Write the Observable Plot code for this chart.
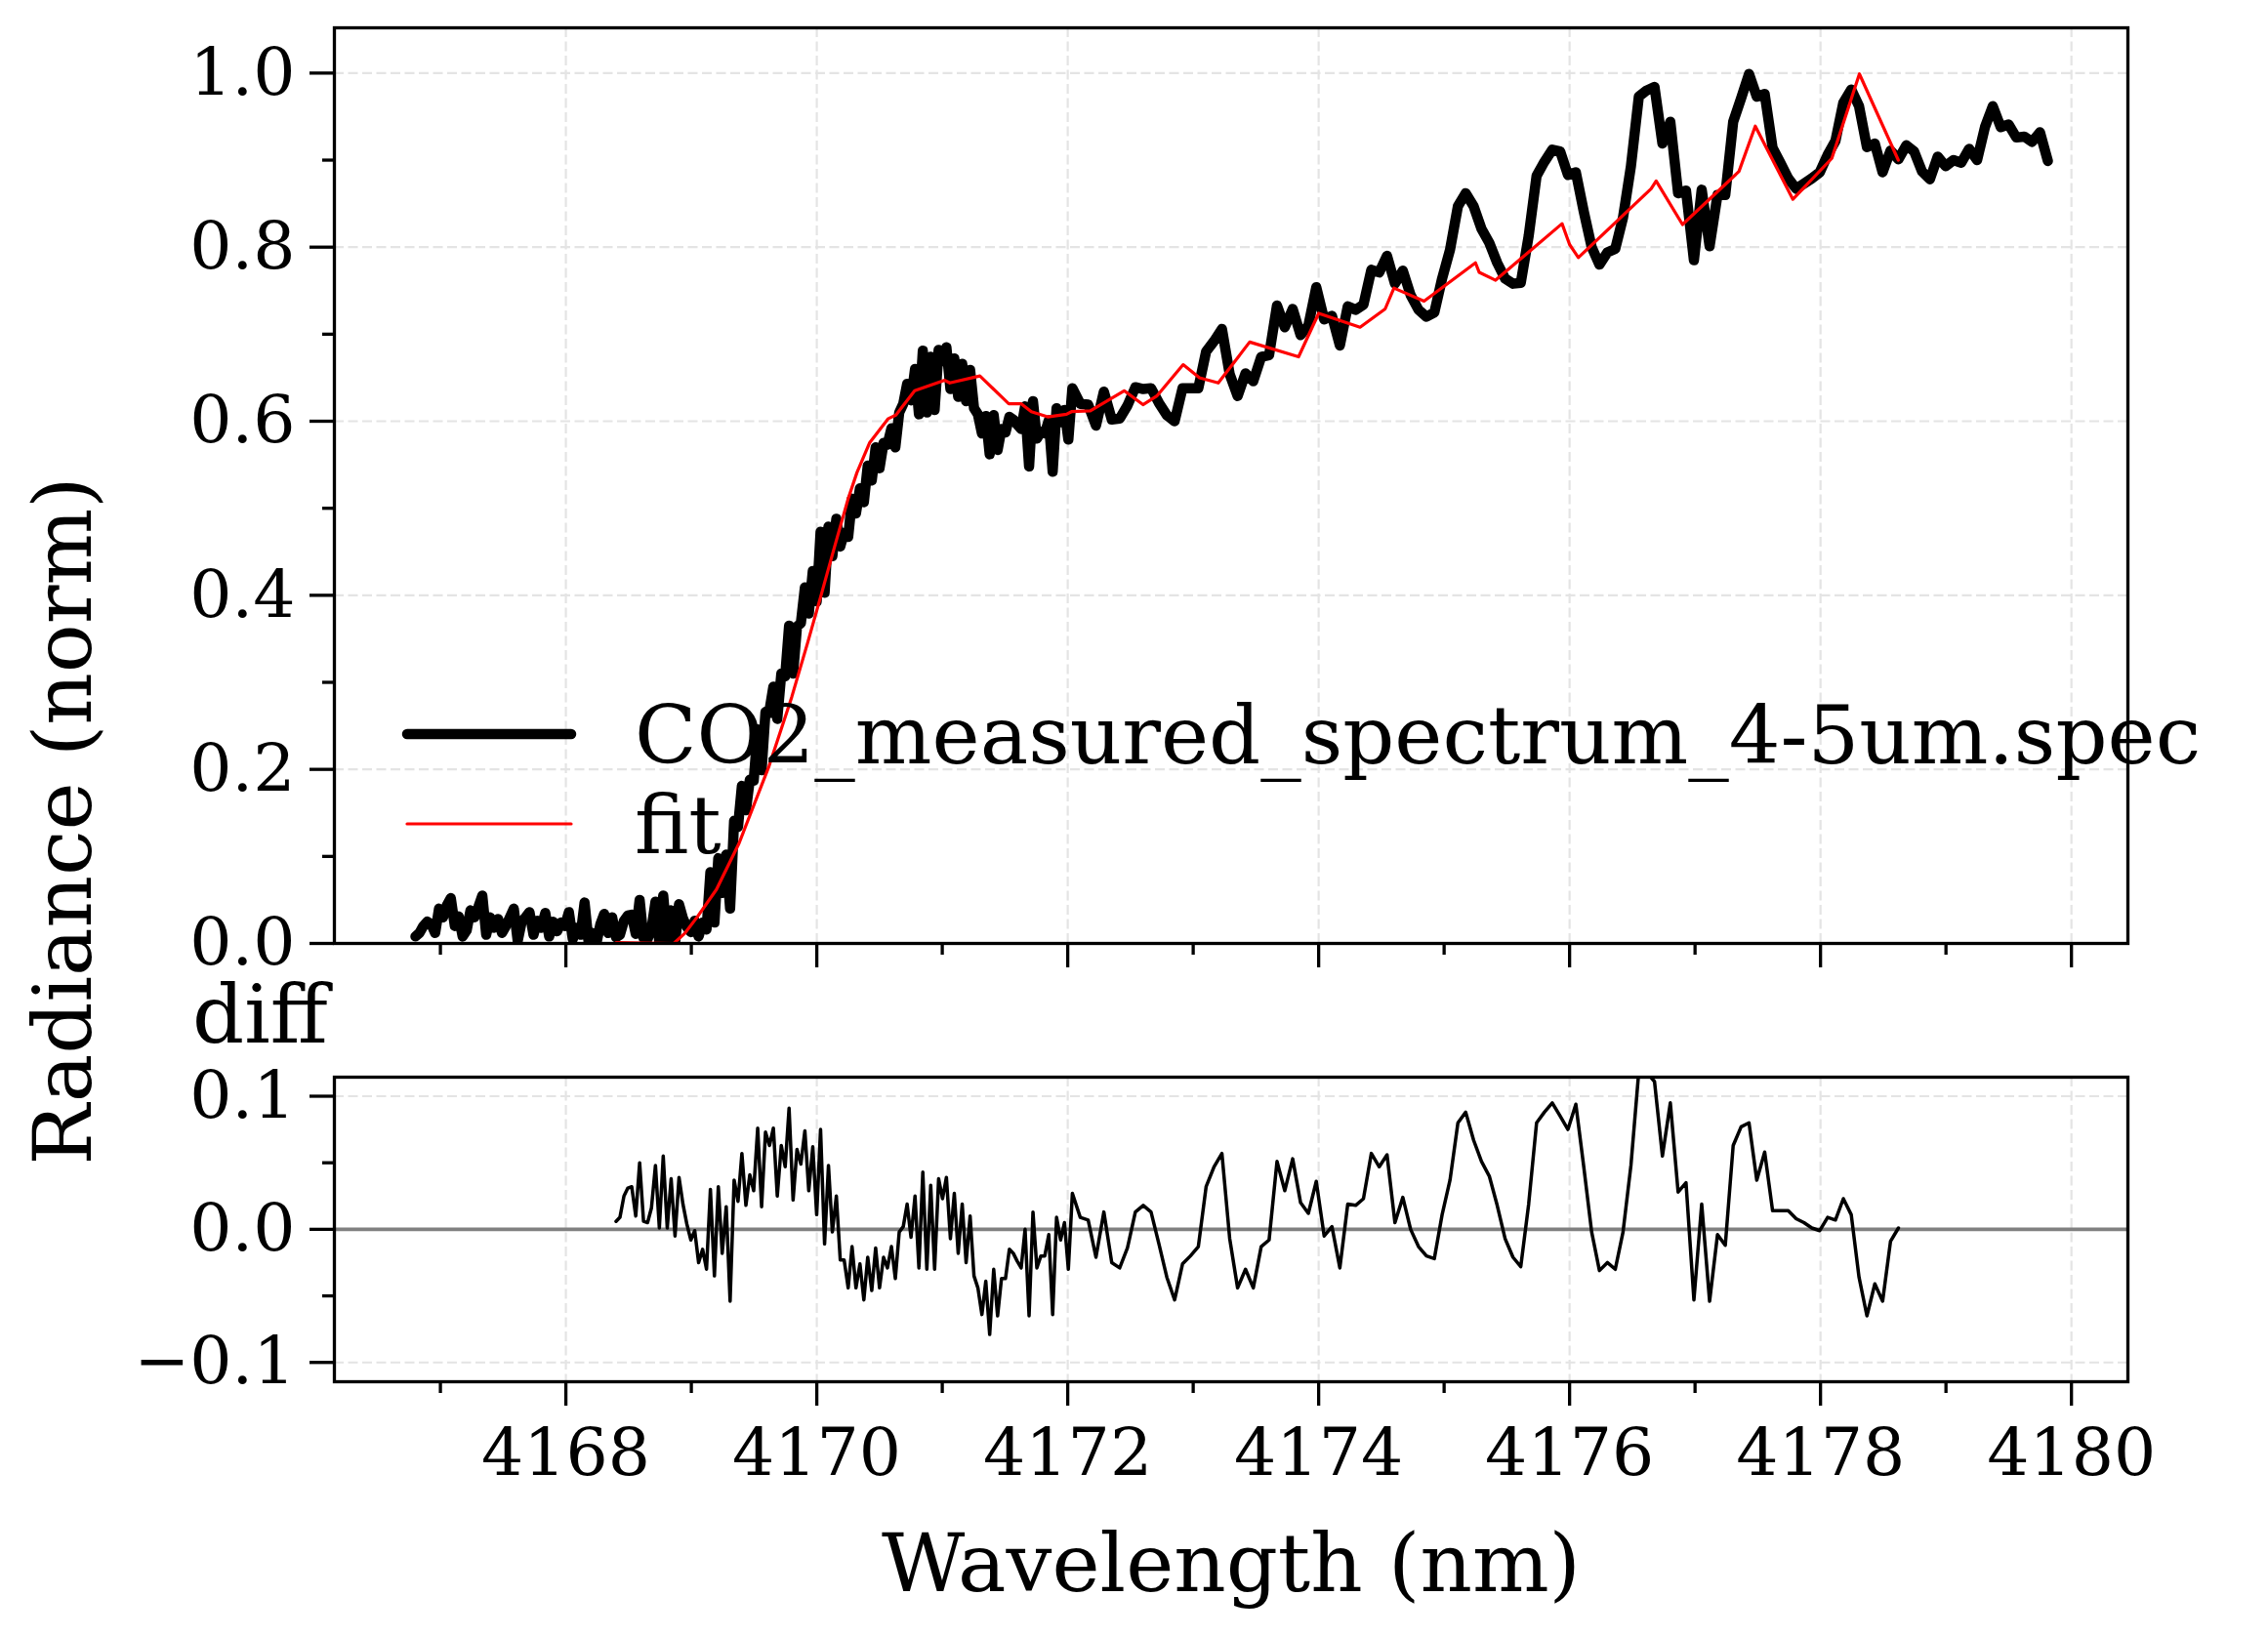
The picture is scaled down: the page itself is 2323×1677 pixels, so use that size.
<!DOCTYPE html>
<html>
<head>
<meta charset="utf-8">
<script src="https://cdn.jsdelivr.net/npm/d3@7"></script>
<script src="https://cdn.jsdelivr.net/npm/@observablehq/plot@0.6"></script>
<style>
  html, body { margin: 0; padding: 0; background: #fff; }
  #fig { position: relative; width: 2323px; height: 1677px; background: #fff; overflow: hidden; }
  #fig svg { position: absolute; left: 0; }
</style>
</head>
<body>
<div id="fig"></div>
<script>
// Measured CO2 spectrum (nm, normalised radiance)
const wavelengthNm = [
  4166.801, 4166.833, 4166.864, 4166.895, 4166.927, 4166.958, 4166.989, 4167.021, 4167.052, 4167.083,
  4167.115, 4167.146, 4167.177, 4167.209, 4167.240, 4167.271, 4167.303, 4167.334, 4167.365, 4167.397,
  4167.428, 4167.460, 4167.491, 4167.522, 4167.554, 4167.585, 4167.616, 4167.648, 4167.679, 4167.710,
  4167.742, 4167.773, 4167.804, 4167.836, 4167.867, 4167.898, 4167.930, 4167.961, 4167.992, 4168.024,
  4168.055, 4168.087, 4168.118, 4168.149, 4168.181, 4168.212, 4168.243, 4168.275, 4168.306, 4168.337,
  4168.369,
  4168.400, 4168.431, 4168.463, 4168.494, 4168.525, 4168.557, 4168.588, 4168.619, 4168.651, 4168.682,
  4168.714, 4168.745, 4168.776, 4168.808, 4168.839, 4168.870, 4168.902, 4168.933, 4168.964, 4168.996,
  4169.027, 4169.058, 4169.090, 4169.121, 4169.152, 4169.184, 4169.215, 4169.246, 4169.278, 4169.309,
  4169.341, 4169.372, 4169.403, 4169.435, 4169.466, 4169.497, 4169.529, 4169.560, 4169.591, 4169.623,
  4169.654, 4169.685, 4169.717, 4169.748, 4169.779, 4169.811, 4169.842, 4169.873, 4169.905, 4169.936,
  4169.968, 4169.999, 4170.030, 4170.062, 4170.093, 4170.124, 4170.156, 4170.187, 4170.218, 4170.250,
  4170.281, 4170.312, 4170.344, 4170.375, 4170.406, 4170.438, 4170.469, 4170.500, 4170.532, 4170.563,
  4170.595, 4170.626, 4170.657, 4170.689, 4170.720, 4170.751, 4170.783, 4170.814, 4170.845, 4170.877,
  4170.908, 4170.939, 4170.971, 4171.002, 4171.033, 4171.065, 4171.096, 4171.127, 4171.159, 4171.190,
  4171.222, 4171.253, 4171.284, 4171.316, 4171.347, 4171.378, 4171.410, 4171.441, 4171.472, 4171.504,
  4171.535, 4171.566, 4171.598, 4171.629, 4171.660, 4171.692, 4171.723, 4171.754, 4171.786, 4171.817,
  4171.849, 4171.880, 4171.911, 4171.943, 4171.974, 4172.005, 4172.037,
  4172.100, 4172.163, 4172.225, 4172.288, 4172.351, 4172.414, 4172.476, 4172.539, 4172.602, 4172.664,
  4172.727, 4172.790, 4172.852, 4172.915, 4172.978, 4173.041, 4173.103, 4173.166, 4173.229, 4173.291,
  4173.354, 4173.417, 4173.479, 4173.542, 4173.605, 4173.668, 4173.730, 4173.793, 4173.856, 4173.918,
  4173.981, 4174.044, 4174.106, 4174.169, 4174.232, 4174.295, 4174.357, 4174.420, 4174.483, 4174.545,
  4174.608, 4174.671, 4174.733, 4174.796, 4174.859, 4174.922, 4174.984, 4175.047, 4175.110, 4175.172,
  4175.235, 4175.298, 4175.360, 4175.423, 4175.486, 4175.549, 4175.611, 4175.674, 4175.737, 4175.799,
  4175.862, 4175.925, 4175.987, 4176.050, 4176.113, 4176.176, 4176.238, 4176.301, 4176.364, 4176.426,
  4176.489, 4176.552, 4176.614, 4176.677, 4176.740, 4176.803, 4176.865, 4176.928, 4176.991, 4177.053,
  4177.116, 4177.179, 4177.241, 4177.304, 4177.367, 4177.430, 4177.492, 4177.555, 4177.618, 4177.680,
  4177.743, 4177.806, 4177.868, 4177.931, 4177.994, 4178.057, 4178.119, 4178.182, 4178.245, 4178.307,
  4178.370, 4178.433, 4178.495, 4178.558, 4178.621,
  4178.684, 4178.746, 4178.809, 4178.872, 4178.934, 4178.997, 4179.060, 4179.122, 4179.185, 4179.248,
  4179.311, 4179.373, 4179.436, 4179.499, 4179.561, 4179.624, 4179.687, 4179.749, 4179.812
];

const radianceNorm = [
  0.008, 0.012, 0.020, 0.025, 0.022, 0.012, 0.040, 0.030, 0.044, 0.052,
  0.020, 0.031, 0.008, 0.015, 0.038, 0.030, 0.042, 0.055, 0.010, 0.030,
  0.018, 0.028, 0.012, 0.020, 0.030, 0.040, 0.003, 0.025, 0.030, 0.036,
  0.010, 0.026, 0.018, 0.035, 0.008, 0.025, 0.014, 0.024, 0.020, 0.036,
  0.005, 0.018, 0.010, 0.047, 0.002, 0.012, 0.000, 0.022, 0.034, 0.012,
  0.030,
  0.007, 0.010, 0.026, 0.032, 0.033, 0.011, 0.050, 0.006, 0.005, 0.016,
  0.048, 0.001, 0.055, 0.001, 0.038, 0.000, 0.045, 0.029, 0.019, 0.013,
  0.026, 0.008, 0.024, 0.016, 0.082, 0.024, 0.098, 0.058, 0.102, 0.040,
  0.141, 0.134, 0.181, 0.153, 0.188, 0.187, 0.246, 0.199, 0.266, 0.268,
  0.295, 0.258, 0.310, 0.307, 0.365, 0.310, 0.364, 0.368, 0.409, 0.379,
  0.428, 0.393, 0.473, 0.403, 0.479, 0.445, 0.488, 0.456, 0.472, 0.467,
  0.511, 0.494, 0.523, 0.507, 0.549, 0.532, 0.570, 0.546, 0.575, 0.573,
  0.592, 0.570, 0.610, 0.620, 0.643, 0.624, 0.660, 0.608, 0.681, 0.610,
  0.674, 0.613, 0.682, 0.669, 0.685, 0.637, 0.672, 0.628, 0.666, 0.623,
  0.659, 0.615, 0.608, 0.586, 0.606, 0.562, 0.607, 0.567, 0.591, 0.587,
  0.605, 0.602, 0.596, 0.591, 0.617, 0.548, 0.623, 0.580, 0.588, 0.586,
  0.601, 0.542, 0.615, 0.599, 0.613, 0.579, 0.638,
  0.620, 0.619, 0.595, 0.634, 0.602, 0.603, 0.618, 0.639, 0.637, 0.638,
  0.621, 0.607, 0.600, 0.638, 0.638, 0.638, 0.680, 0.692, 0.706, 0.654,
  0.629, 0.655, 0.646, 0.674, 0.676, 0.733, 0.708, 0.729, 0.699, 0.710,
  0.754, 0.717, 0.721, 0.687, 0.732, 0.728, 0.734, 0.774, 0.771, 0.790,
  0.758, 0.773, 0.745, 0.728, 0.720, 0.725, 0.764, 0.797, 0.847, 0.862,
  0.847, 0.821, 0.805, 0.782, 0.764, 0.758, 0.759, 0.813, 0.882, 0.898,
  0.912, 0.910, 0.883, 0.886, 0.841, 0.800, 0.780, 0.794, 0.798, 0.834,
  0.893, 0.973, 0.980, 0.984, 0.919, 0.944, 0.862, 0.865, 0.785, 0.866,
  0.801, 0.860, 0.860, 0.944, 0.971, 0.999, 0.973, 0.976, 0.914, 0.897,
  0.879, 0.867, 0.873, 0.879, 0.886, 0.906, 0.922, 0.966, 0.981, 0.962,
  0.915, 0.919, 0.886, 0.911, 0.901,
  0.917, 0.910, 0.887, 0.878, 0.904, 0.893, 0.900, 0.897, 0.913, 0.900,
  0.938, 0.962, 0.938, 0.941, 0.926, 0.927, 0.921, 0.932, 0.899
];

// Fitted model, vertex by vertex
const fitWavelengthNm = [
  4168.400, 4168.860, 4168.950, 4169.050, 4169.200, 4169.380, 4169.620, 4169.800, 4169.930, 4170.040,
  4170.140, 4170.250, 4170.320, 4170.420, 4170.570, 4170.630, 4170.780, 4171.020, 4171.060, 4171.300,
  4171.530, 4171.630, 4171.710, 4171.840, 4171.990, 4172.030, 4172.180, 4172.450, 4172.600, 4172.710,
  4172.920, 4173.050, 4173.200, 4173.450, 4173.840, 4174.000, 4174.330, 4174.530, 4174.600, 4174.840,
  4175.250, 4175.280, 4175.410, 4175.940, 4176.000, 4176.070, 4176.650, 4176.690, 4176.900, 4177.350,
  4177.480, 4177.780, 4178.090, 4178.310, 4178.620
];
const fitRadianceNorm = [
  0.001, 0.000, 0.012, 0.031, 0.062, 0.115, 0.204, 0.283, 0.347, 0.403,
  0.455, 0.511, 0.541, 0.575, 0.603, 0.607, 0.635, 0.647, 0.644, 0.652,
  0.620, 0.620, 0.611, 0.605, 0.608, 0.611, 0.612, 0.635, 0.619, 0.629,
  0.665, 0.650, 0.644, 0.691, 0.674, 0.724, 0.708, 0.729, 0.753, 0.738,
  0.782, 0.771, 0.762, 0.827, 0.803, 0.788, 0.867, 0.876, 0.826, 0.887,
  0.939, 0.855, 0.902, 0.999, 0.900
];

// Residual (measured - fit), sampled on wavelengthNm from index residualStart on
const residualStart = 51;
const residual = [
  0.006, 0.009, 0.025, 0.031, 0.032, 0.010, 0.050, 0.006, 0.005, 0.016,
  0.048, 0.001, 0.055, 0.001, 0.038, -0.005, 0.039, 0.019, 0.004, -0.008,
  -0.001, -0.025, -0.015, -0.030, 0.030, -0.035, 0.032, -0.018, 0.017, -0.054,
  0.037, 0.021, 0.057, 0.018, 0.041, 0.029, 0.076, 0.017, 0.073, 0.063,
  0.076, 0.025, 0.063, 0.047, 0.091, 0.022, 0.060, 0.049, 0.074, 0.029,
  0.062, 0.011, 0.075, -0.011, 0.048, -0.002, 0.025, -0.023, -0.023, -0.044,
  -0.013, -0.044, -0.026, -0.053, -0.021, -0.046, -0.014, -0.044, -0.021, -0.029,
  -0.013, -0.037, -0.002, 0.002, 0.019, -0.006, 0.025, -0.029, 0.043, -0.030,
  0.033, -0.030, 0.038, 0.023, 0.039, -0.007, 0.027, -0.018, 0.019, -0.025,
  0.010, -0.035, -0.044, -0.064, -0.039, -0.079, -0.030, -0.065, -0.037, -0.037,
  -0.015, -0.018, -0.024, -0.029, 0.000, -0.065, 0.013, -0.029, -0.020, -0.020,
  -0.004, -0.064, 0.009, -0.008, 0.005, -0.030, 0.027,
  0.009, 0.007, -0.021, 0.013, -0.025, -0.029, -0.014, 0.013, 0.018, 0.013,
  -0.011, -0.036, -0.053, -0.026, -0.020, -0.013, 0.032, 0.047, 0.057, -0.007,
  -0.044, -0.030, -0.044, -0.013, -0.008, 0.051, 0.029, 0.053, 0.020, 0.012,
  0.036, -0.005, 0.002, -0.029, 0.019, 0.018, 0.023, 0.057, 0.047, 0.056,
  0.005, 0.024, 0.000, -0.013, -0.020, -0.022, 0.011, 0.037, 0.080, 0.088,
  0.067, 0.051, 0.040, 0.018, -0.007, -0.021, -0.028, 0.019, 0.080, 0.088,
  0.095, 0.085, 0.075, 0.094, 0.047, -0.002, -0.031, -0.025, -0.030, -0.002,
  0.048, 0.119, 0.118, 0.111, 0.055, 0.095, 0.028, 0.035, -0.053, 0.019,
  -0.054, -0.004, -0.012, 0.063, 0.077, 0.080, 0.037, 0.058, 0.014, 0.014,
  0.014, 0.008, 0.005, 0.001, -0.001, 0.009, 0.007, 0.023, 0.011, -0.036,
  -0.065, -0.041, -0.054, -0.009, 0.001
];

// Tick positions and labels
const xMajorTicks = [4168, 4170, 4172, 4174, 4176, 4178, 4180];
const xMinorTicks = [4167, 4169, 4171, 4173, 4175, 4177, 4179];
const radianceTicks = [0, 0.2, 0.4, 0.6, 0.8, 1.0];
const radianceMinorTicks = [0.1, 0.3, 0.5, 0.7, 0.9];
const diffTicks = [-0.1, 0, 0.1];
const diffMinorTicks = [-0.05, 0.05];

const seriesLabels = ["CO2_measured_spectrum_4-5um.spec", "fit"];
const yLabel = "Radiance (norm)";
const xLabel = "Wavelength (nm)";
const diffTitle = "diff";

// ---- build tables ----
const measured = wavelengthNm.map((w, i) => ({w, r: radianceNorm[i]}));
const fit = fitWavelengthNm.map((w, i) => ({w, r: fitRadianceNorm[i]}));
const resid = residual.map((d, i) => ({w: wavelengthNm[residualStart + i], d}));

// ---- layout ----
const W = 2323;
const FONT = '"DejaVu Serif", "Liberation Serif", serif';
const TICK_FS = 68;
const LABEL_FS = 83;
const LW_AXIS = 3.3;
const GRID = {stroke: "#e4e4e4", strokeOpacity: 1, strokeWidth: 2.2, strokeDasharray: "10,4.5"};
const xDomain = [4166.155, 4180.45];
const frameLeft = 342, frameRight = 2179;
const fmt1 = d => (d < 0 ? "\u2212" : "") + Math.abs(d).toFixed(1);
const blank = () => "";

const common = {
  width: W,
  marginLeft: frameLeft,
  marginRight: W - frameRight,
  style: {fontFamily: FONT, fontSize: TICK_FS + "px", background: "transparent", color: "black", overflow: "visible"}
};

// Upper panel: spectrum and fit
const topH = 1000;
const topPlot = Plot.plot({
  ...common,
  height: topH,
  marginTop: 28,
  marginBottom: topH - 966,
  x: {domain: xDomain, label: null},
  y: {domain: [0, 1.052], label: null},
  marks: [
    Plot.gridX(xMajorTicks, GRID),
    Plot.gridY(radianceTicks, GRID),
    Plot.line(measured, {x: "w", y: "r", stroke: "black", strokeWidth: 10.5,
      strokeLinejoin: "round", strokeLinecap: "round", clip: true}),
    Plot.line(fit, {x: "w", y: "r", stroke: "#ff0000", strokeWidth: 3.2,
      strokeLinejoin: "round", clip: true}),
    Plot.axisY(radianceTicks, {anchor: "left", tickSize: 25, tickPadding: 15, strokeWidth: LW_AXIS,
      tickFormat: fmt1, fontSize: TICK_FS, label: null}),
    Plot.axisY(radianceMinorTicks, {anchor: "left", tickSize: 12, strokeWidth: LW_AXIS,
      tickFormat: blank, label: null}),
    Plot.axisX(xMajorTicks, {anchor: "bottom", tickSize: 25, strokeWidth: LW_AXIS,
      tickFormat: blank, label: null}),
    Plot.axisX(xMinorTicks, {anchor: "bottom", tickSize: 12, strokeWidth: LW_AXIS,
      tickFormat: blank, label: null}),
    Plot.frame({stroke: "black", strokeWidth: LW_AXIS})
  ]
});

// Lower panel: residuals
const botTop = 1000;
const botH = 1677 - botTop;
const bottomPlot = Plot.plot({
  ...common,
  height: botH,
  marginTop: 1103 - botTop,
  marginBottom: botH - (1415 - botTop),
  x: {domain: xDomain, label: null},
  y: {domain: [-0.1145, 0.1143], label: null},
  marks: [
    Plot.gridX(xMajorTicks, GRID),
    Plot.gridY([-0.1, 0.1], GRID),
    Plot.ruleY([0], {stroke: "#808080", strokeWidth: 3.6}),
    Plot.line(resid, {x: "w", y: "d", stroke: "black", strokeWidth: 3.5,
      strokeLinejoin: "round", clip: true}),
    Plot.axisY(diffTicks, {anchor: "left", tickSize: 25, tickPadding: 15, strokeWidth: LW_AXIS,
      tickFormat: fmt1, fontSize: TICK_FS, label: null}),
    Plot.axisY(diffMinorTicks, {anchor: "left", tickSize: 12, strokeWidth: LW_AXIS,
      tickFormat: blank, label: null}),
    Plot.axisX(xMajorTicks, {anchor: "bottom", tickSize: 25, tickPadding: 22, strokeWidth: LW_AXIS,
      tickFormat: d => String(d), fontSize: TICK_FS, label: null}),
    Plot.axisX(xMinorTicks, {anchor: "bottom", tickSize: 12, strokeWidth: LW_AXIS,
      tickFormat: blank, label: null}),
    Plot.frame({stroke: "black", strokeWidth: LW_AXIS})
  ]
});

const fig = document.getElementById("fig");
topPlot.style.top = "0px";
bottomPlot.style.top = botTop + "px";
fig.appendChild(topPlot);
fig.appendChild(bottomPlot);

// Labels and legend drawn over the two panels
const overlay = d3.select(fig).append("svg")
  .attr("width", W).attr("height", 1677)
  .style("top", "0px")
  .style("pointer-events", "none")
  .attr("font-family", FONT)
  .attr("fill", "black");

overlay.append("text")
  .attr("transform", "translate(93,841) rotate(-90)")
  .attr("text-anchor", "middle")
  .attr("font-size", LABEL_FS)
  .text(yLabel);

overlay.append("text")
  .attr("x", 1261).attr("y", 1630)
  .attr("text-anchor", "middle")
  .attr("font-size", LABEL_FS)
  .text(xLabel);

overlay.append("text")
  .attr("x", 197).attr("y", 1068)
  .attr("font-size", LABEL_FS)
  .text(diffTitle);

const legendRows = [
  {label: seriesLabels[0], color: "black", width: 10.5, cy: 752, base: 782},
  {label: seriesLabels[1], color: "#ff0000", width: 3.2, cy: 844, base: 874}
];
for (const row of legendRows) {
  overlay.append("line")
    .attr("x1", 417).attr("x2", 585)
    .attr("y1", row.cy).attr("y2", row.cy)
    .attr("stroke", row.color)
    .attr("stroke-width", row.width)
    .attr("stroke-linecap", "round");
  overlay.append("text")
    .attr("x", 650).attr("y", row.base)
    .attr("font-size", LABEL_FS)
    .text(row.label);
}
</script>
</body>
</html>
